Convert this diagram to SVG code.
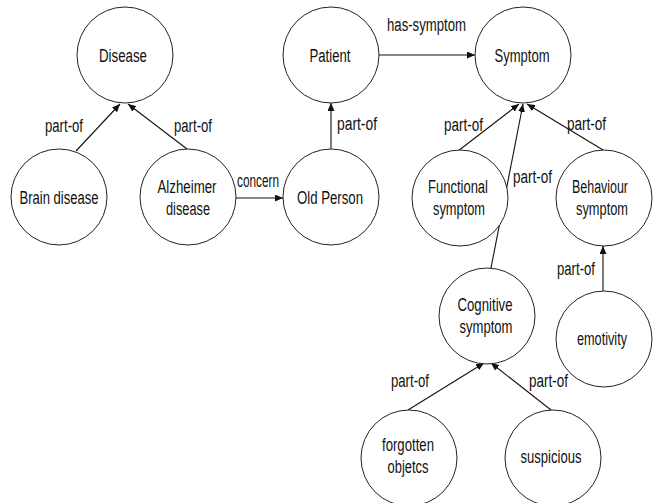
<svg xmlns="http://www.w3.org/2000/svg" width="655" height="503" viewBox="0 0 655 503">
<defs>
<marker id="arr" markerUnits="userSpaceOnUse" markerWidth="9" markerHeight="7" refX="8" refY="3.5" orient="auto">
<path d="M0,0 L8,3.5 L0,7 z" fill="#111"/>
</marker>
<style>
.n circle{fill:#fff;stroke:#222;stroke-width:1}
text{font-family:"Liberation Sans",Arial,sans-serif;font-size:18px;fill:#111;text-anchor:middle}
.e line{stroke:#111;stroke-width:1.1;marker-end:url(#arr)}
.l{text-anchor:start}
</style>
</defs>
<rect width="655" height="503" fill="#fff"/>
<g id="connectors" class="e">
<line x1="76" y1="151" x2="120" y2="104"/>
<line x1="187" y1="149" x2="128" y2="104"/>
<line x1="236" y1="198" x2="283" y2="198"/>
<line x1="331" y1="149" x2="331" y2="103"/>
<line x1="379" y1="55" x2="475" y2="55"/>
<line x1="458" y1="151" x2="519" y2="104"/>
<line x1="491" y1="268" x2="523" y2="104"/>
<line x1="603" y1="150" x2="527" y2="104"/>
<line x1="603" y1="291" x2="603" y2="246"/>
<line x1="408" y1="410" x2="484" y2="363"/>
<line x1="551" y1="410" x2="491" y2="363"/>
</g>
<g id="labels">
<text class="l" x="45" y="132" textLength="38" lengthAdjust="spacingAndGlyphs">part-of</text>
<text class="l" x="174" y="132" textLength="38" lengthAdjust="spacingAndGlyphs">part-of</text>
<text class="l" x="237" y="187" textLength="42" lengthAdjust="spacingAndGlyphs">concern</text>
<text class="l" x="337" y="130" textLength="40" lengthAdjust="spacingAndGlyphs">part-of</text>
<text class="l" x="387" y="31" textLength="79" lengthAdjust="spacingAndGlyphs">has-symptom</text>
<text class="l" x="444" y="131" textLength="39" lengthAdjust="spacingAndGlyphs">part-of</text>
<text class="l" x="567" y="130" textLength="39" lengthAdjust="spacingAndGlyphs">part-of</text>
<text class="l" x="513" y="183" textLength="39" lengthAdjust="spacingAndGlyphs">part-of</text>
<text class="l" x="557" y="275" textLength="38" lengthAdjust="spacingAndGlyphs">part-of</text>
<text class="l" x="391" y="387" textLength="38" lengthAdjust="spacingAndGlyphs">part-of</text>
<text class="l" x="529" y="387" textLength="39" lengthAdjust="spacingAndGlyphs">part-of</text>
</g>
<g id="disease" class="n"><circle cx="125" cy="55" r="48"/><text x="123" y="62" textLength="48" lengthAdjust="spacingAndGlyphs">Disease</text></g>
<g id="patient" class="n"><circle cx="331" cy="55" r="48"/><text x="330" y="62" textLength="41" lengthAdjust="spacingAndGlyphs">Patient</text></g>
<g id="symptom" class="n"><circle cx="523" cy="55" r="48"/><text x="522" y="62" textLength="55" lengthAdjust="spacingAndGlyphs">Symptom</text></g>
<g id="brain-disease" class="n"><circle cx="59" cy="197" r="48"/><text x="59" y="204" textLength="79" lengthAdjust="spacingAndGlyphs">Brain disease</text></g>
<g id="alzheimer-disease" class="n"><circle cx="188" cy="197" r="48"/><text x="187" y="193" textLength="59" lengthAdjust="spacingAndGlyphs">Alzheimer</text><text x="188" y="215" textLength="44" lengthAdjust="spacingAndGlyphs">disease</text></g>
<g id="old-person" class="n"><circle cx="331" cy="197" r="48"/><text x="330" y="204" textLength="66" lengthAdjust="spacingAndGlyphs">Old Person</text></g>
<g id="functional-symptom" class="n"><circle cx="460" cy="198" r="48"/><text x="458" y="193" textLength="60" lengthAdjust="spacingAndGlyphs">Functional</text><text x="459" y="215" textLength="52" lengthAdjust="spacingAndGlyphs">symptom</text></g>
<g id="behaviour-symptom" class="n"><circle cx="604" cy="198" r="48"/><text x="600" y="193" textLength="56" lengthAdjust="spacingAndGlyphs">Behaviour</text><text x="602" y="215" textLength="52" lengthAdjust="spacingAndGlyphs">symptom</text></g>
<g id="cognitive-symptom" class="n"><circle cx="487" cy="316" r="48"/><text x="485" y="311" textLength="55" lengthAdjust="spacingAndGlyphs">Cognitive</text><text x="486" y="333" textLength="53" lengthAdjust="spacingAndGlyphs">symptom</text></g>
<g id="emotivity" class="n"><circle cx="604" cy="339" r="48"/><text x="602" y="345" textLength="50" lengthAdjust="spacingAndGlyphs">emotivity</text></g>
<g id="forgotten-objetcs" class="n"><circle cx="409" cy="458" r="48"/><text x="408" y="451" textLength="52" lengthAdjust="spacingAndGlyphs">forgotten</text><text x="408" y="473" textLength="41" lengthAdjust="spacingAndGlyphs">objetcs</text></g>
<g id="suspicious" class="n"><circle cx="553" cy="458" r="48"/><text x="551" y="463" textLength="61" lengthAdjust="spacingAndGlyphs">suspicious</text></g>
</svg>
